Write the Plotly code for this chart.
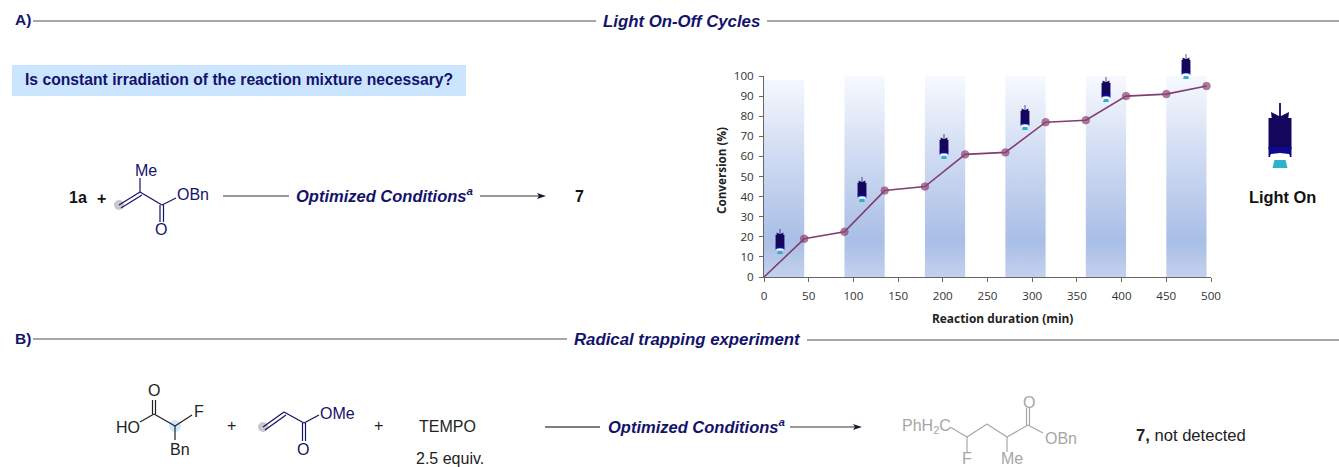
import plotly.graph_objects as go

W, H = 1339, 467
NAVY = "#13136b"
GREY = "#a6a6a6"
DARK = "#1a1a2e"
BODY = "#14065c"
CHEM = 16
HEAD = 16.8

time_min = [0, 45, 90, 135, 180, 225, 270, 315, 360, 405, 450, 495]
conversion = [0, 19, 22.5, 43, 45, 61, 62, 77, 78, 90, 91, 95]
band_starts = [0, 90, 180, 270, 360, 450]
band_tops = [98, 100, 100, 100, 100, 100]
band_width = 45
lamp_centres = [780, 862, 944, 1025, 1106, 1186]
lamp_tops = [229, 177, 134, 105, 77, 54]


def px(x):
    return x / W


def py(y):
    return 1 - y / H


shapes, annotations = [], []


def line(x0, y0, x1, y1, color=NAVY, width=1.2):
    shapes.append(dict(type="line", xref="paper", yref="paper", x0=px(x0), y0=py(y0), x1=px(x1), y1=py(y1),
                       line=dict(color=color, width=width)))


def dbl(x0, y0, x1, y1, dx, dy, color=NAVY):
    line(x0, y0, x1, y1, color)
    line(x0 + dx, y0 + dy, x1 + dx, y1 + dy, color)


def text(x, y, s, size=CHEM, color="#111111", anchor="left", family="Liberation Sans", angle=0):
    annotations.append(dict(xref="paper", yref="paper", x=px(x), y=py(y), text=s, showarrow=False,
                            xanchor=anchor, yanchor="middle", align="left", borderpad=0, textangle=angle,
                            font=dict(family=family, size=size, color=color)))


def circle(x, y, r, color):
    shapes.append(dict(type="circle", xref="paper", yref="paper", x0=px(x - r), x1=px(x + r),
                       y0=py(y - r), y1=py(y + r), fillcolor=color, line=dict(width=0), layer="below"))


def poly(points, color):
    d = "M " + " L ".join(f"{px(a):.5f},{py(b):.5f}" for a, b in points) + " Z"
    shapes.append(dict(type="path", xref="paper", yref="paper", path=d, fillcolor=color, line=dict(width=0)))


def arrow_head(x, y, color=DARK):
    poly([(x, y), (x - 9, y - 3), (x - 7, y), (x - 9, y + 3)], color)


def lamp(cx, top, k):
    def P(pts):
        return [(cx + a * k, top + b * k) for a, b in pts]
    poly(P([(-0.9, 0), (0.9, 0), (0.9, 20), (-0.9, 20)]), BODY)
    poly(P([(-9, 9), (-1, 13), (1, 13), (9, 9), (8, 18), (-8, 18)]), BODY)
    poly(P([(-11.5, 15), (11.5, 15), (11.5, 46), (-11.5, 46)]), BODY)
    poly(P([(-11.5, 44), (11.5, 44), (11.5, 54), (-11.5, 54)]), "#0b0b8c")
    poly(P([(-9, 51), (0, 50), (9, 51), (10, 53), (9, 55), (0, 56), (-9, 55), (-10, 53)]), "#ffffff")
    poly(P([(-5.5, 57), (5.5, 57), (7.5, 65), (-7.5, 65)]), "#2fb0cc")


# Section headers
text(14, 20, "<b>A)</b>", 15.5, NAVY)
line(33, 21, 596, 21, GREY, 2)
text(602, 21, "<b><i>Light On-Off Cycles</i></b>", HEAD, NAVY)
line(767, 21, 1339, 21, GREY, 2)
text(14, 338, "<b>B)</b>", 15.5, NAVY)
line(33, 339, 567, 339, GREY, 2)
text(573, 339, "<b><i>Radical trapping experiment</i></b>", HEAD, NAVY)
line(807, 340, 1339, 340, GREY, 2)

# Question box
shapes.append(dict(type="rect", xref="paper", yref="paper", x0=px(12), x1=px(466), y0=py(65), y1=py(96),
                   fillcolor="#cce5ff", line=dict(width=0), layer="below"))
text(24, 80, "<b>Is constant irradiation of the reaction mixture necessary?</b>", 15.7, NAVY)

# Scheme A
text(68, 197, "<b>1a</b>", CHEM, "#111111")
text(96, 198, "<b>+</b>", CHEM, "#111111")
circle(119, 205, 5, "#c8c8c8")
dbl(119, 205, 140, 192, 2, 3)
line(140, 192, 140, 178)
line(140, 192, 162, 205)
dbl(160, 205, 160, 222, 3.5, 0)
line(162, 205, 176, 198)
text(146, 170, "Me", CHEM, NAVY, "center")
text(176, 194, "OBn", CHEM, NAVY)
text(161, 230, "O", CHEM, NAVY, "center")
line(223, 196, 289, 196, "#333333", 1.2)
text(295, 195, "<b><i>Optimized Conditions<sup>a</sup></i></b>", 16.5, NAVY)
line(480, 196, 540, 196, "#333333", 1.2)
arrow_head(546, 196)
text(579, 196, "<b>7</b>", CHEM, "#111111", "center")

# Scheme B reactants
text(115, 427, "HO", CHEM, "#222222")
text(154, 390, "O", CHEM, "#222222", "center")
dbl(152.5, 400, 152.5, 414, 3, 0, "#222222")
line(154, 414, 140, 422, "#222222")
circle(175, 426, 6, "#cfe6fb")
line(154, 414, 175, 426, "#222222")
line(175, 426, 192, 415, "#222222")
line(175, 426, 175, 440, "#222222")
text(199, 411, "F", CHEM, "#222222", "center")
text(180, 449, "Bn", CHEM, "#222222", "center")
text(231, 425, "+", CHEM, "#222222", "center")
circle(263, 427, 5, "#c8c8c8")
dbl(263, 427, 284, 412, 2, 3)
line(284, 412, 304, 423)
dbl(302.5, 423, 302.5, 441, 3, 0)
line(304, 423, 319, 415)
text(319, 413, "OMe", CHEM, NAVY)
text(303, 449, "O", CHEM, NAVY, "center")
text(378, 425, "+", CHEM, "#222222", "center")
text(418, 426, "TEMPO", CHEM, "#222222")
text(415, 458, "2.5 equiv.", CHEM, "#222222")

# Scheme B arrow
line(545, 427, 600, 427, "#555555", 1.4)
text(607, 426, "<b><i>Optimized Conditions<sup>a</sup></i></b>", 16.5, NAVY)
line(790, 427, 856, 427, "#333333", 1.2)
arrow_head(862, 427)

# Scheme B product
text(901, 426, "PhH<sub>2</sub>C", CHEM, GREY)
for a, b in [((950, 427), (967, 437)), ((967, 437), (987, 424)), ((987, 424), (1007, 437)),
             ((1007, 437), (1028, 425)), ((1028, 425), (1043, 433)), ((967, 437), (967, 452)),
             ((1007, 437), (1007, 452))]:
    line(*a, *b, GREY)
dbl(1026.5, 425, 1026.5, 408, 3, 0, GREY)
text(1029, 402, "O", CHEM, GREY, "center")
text(1044, 438, "OBn", CHEM, GREY)
text(967, 458, "F", CHEM, GREY, "center")
text(1012, 458, "Me", CHEM, GREY, "center")
text(1135, 435, "<b>7,</b> not detected", 16.6, "#222222")

# Lamps
for c, t in zip(lamp_centres, lamp_tops):
    lamp(c, t, 0.385)
lamp(1280, 103, 1)
text(1282, 197, "<b>Light On</b>", 16.4, "#111111", "center")

# Axis titles
text(1002, 318, "<b>Reaction duration (min)</b>", 11.9, "#222222", "center", "Open Sans")
text(721, 171, "<b>Conversion (%)</b>", 11.7, "#222222", "center", "Open Sans", -90)

fig = go.Figure()

scale = [[0, "#c3d1ed"], [0.18, "#a9bfe6"], [0.5, "#c6d4ef"], [1, "#f7f9fe"]]
band_x, band_y = [], []
for s, top in zip(band_starts, band_tops):
    band_x += [s, s, s + band_width, s + band_width, s, None]
    band_y += [0, top, top, 0, 0, None]
fig.add_trace(go.Scatter(x=band_x, y=band_y, mode="none", fill="toself", hoverinfo="skip", showlegend=False,
                         fillgradient=dict(type="vertical", colorscale=scale, start=0, stop=100)))

marker_sizes = [0] + [7.5] * (len(time_min) - 1)
fig.add_trace(go.Scatter(x=time_min, y=conversion, mode="lines+markers",
                         line=dict(color="#7e3f72", width=1.6),
                         marker=dict(color="#96406f", size=marker_sizes), cliponaxis=False, showlegend=False))

axis_font = dict(family="Open Sans", size=11.6, color="#333333")
fig.update_layout(
    width=W, height=H, autosize=False,
    margin=dict(l=0, r=0, t=0, b=0),
    paper_bgcolor="white", plot_bgcolor="white",
    shapes=shapes, annotations=annotations, showlegend=False,
    xaxis=dict(domain=[px(764), px(1211)], range=[0, 500], dtick=50, tick0=0, showgrid=False, zeroline=False,
               ticks="outside", ticklen=4, tickcolor="#666666", showline=True, linecolor="#666666", linewidth=1,
               tickwidth=1, tickfont=axis_font, automargin=False, ticklabelstandoff=4),
    yaxis=dict(domain=[py(277), py(76)], range=[0, 100], dtick=10, tick0=0, showgrid=False, zeroline=False,
               ticks="outside", ticklen=4, tickcolor="#666666", showline=True, linecolor="#666666", linewidth=1,
               tickwidth=1, tickfont=axis_font, automargin=False, ticklabelstandoff=3),
)

fig.write_html("out.html", config=dict(displayModeBar=False), post_script="document.body.style.margin='0';")
